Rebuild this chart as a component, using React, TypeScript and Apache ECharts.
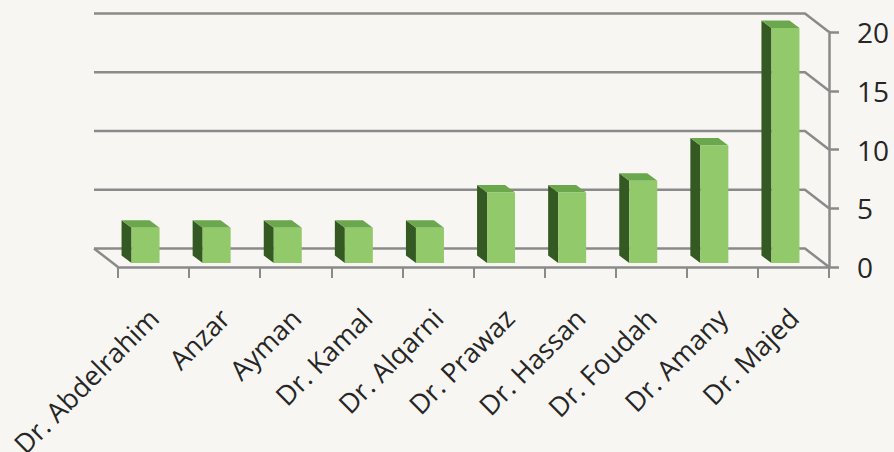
import React, { useEffect, useRef } from "react";
import * as echarts from "echarts";

const categories = [
  "Dr. Abdelrahim",
  "Anzar",
  "Ayman",
  "Dr. Kamal",
  "Dr. Alqarni",
  "Dr. Prawaz",
  "Dr. Hassan",
  "Dr. Foudah",
  "Dr. Amany",
  "Dr. Majed",
];
const values = [3, 3, 3, 3, 3, 6, 6, 7, 10, 20];
const yTicks = [0, 5, 10, 15, 20];

const DEPTH_X = -24;
const DEPTH_Y = -18.5;
const GRID_COLOR = "#8a8a8a";

export default function App() {
  const ref = useRef<HTMLDivElement>(null);
  useEffect(() => {
    if (!ref.current) return;
    const chart = echarts.init(ref.current, undefined, { renderer: "svg" });
    const option: any = {
      animation: false,
      backgroundColor: "#f8f6f3",
      grid: { left: 118, right: 65, top: 32, bottom: 185, containLabel: false, outerBoundsMode: "none" },
      xAxis: {
        type: "category",
        data: categories,
        boundaryGap: true,
        axisLine: { show: true, lineStyle: { color: GRID_COLOR, width: 2.5 } },
        axisTick: { show: true, length: 11, lineStyle: { color: GRID_COLOR, width: 2 } },
        axisLabel: {
          rotate: 45,
          margin: 46,
          interval: 0,
          color: "#262626",
          fontFamily: "Open Sans",
          fontSize: 27,
        },
      },
      yAxis: {
        type: "value",
        position: "right",
        min: 0,
        max: 20,
        interval: 5,
        axisLine: { show: true, lineStyle: { color: GRID_COLOR, width: 2.5 } },
        axisTick: { show: true, inside: false, length: 10, lineStyle: { color: GRID_COLOR, width: 2.5 } },
        splitLine: { show: false },
        axisLabel: {
          margin: 28,
          color: "#262626",
          fontFamily: "Open Sans",
          fontSize: 28,
          padding: [6, 0, 0, 0],
        },
      },
      series: [
        {
          type: "custom",
          silent: true,
          z: 1,
          data: [0],
          renderItem: (params: any, api: any) => {
            const cs = params.coordSys;
            const left = cs.x;
            const right = cs.x + cs.width;
            const children: any[] = [];
            yTicks.forEach((v) => {
              const y = api.coord([0, v])[1];
              children.push({
                type: "polyline",
                shape: {
                  points: [
                    [left + DEPTH_X, y + DEPTH_Y],
                    [right + DEPTH_X, y + DEPTH_Y],
                    [right, y],
                  ],
                },
                style: { stroke: GRID_COLOR, lineWidth: 2.5, fill: "none" },
              });
            });
            const y0 = api.coord([0, 0])[1];
            children.push({
              type: "line",
              shape: { x1: left + DEPTH_X, y1: y0 + DEPTH_Y, x2: left, y2: y0 },
              style: { stroke: GRID_COLOR, lineWidth: 2.5 },
            });
            return { type: "group", children };
          },
        },
        {
          type: "custom",
          z: 2,
          data: values.map((v, i) => [i, v]),
          renderItem: (params: any, api: any) => {
            const i = api.value(0);
            const v = api.value(1);
            const base = api.coord([i, 0]);
            const topP = api.coord([i, v]);
            const cx = base[0] - 8;
            const hw = 14;
            const by = base[1] - 4;
            const ty = topP[1] - 4;
            const dx = -10;
            const dy = -7.5;
            const xl = cx - hw;
            const xr = cx + hw;
            return {
              type: "group",
              children: [
                {
                  type: "polygon",
                  shape: { points: [[xl, by], [xl, ty], [xl + dx, ty + dy], [xl + dx, by + dy]] },
                  style: { fill: "#345922" },
                },
                {
                  type: "polygon",
                  shape: { points: [[xl, ty], [xr, ty], [xr + dx, ty + dy], [xl + dx, ty + dy]] },
                  style: { fill: "#6aa74d" },
                },
                {
                  type: "rect",
                  shape: { x: xl, y: ty, width: xr - xl, height: by - ty },
                  style: { fill: "#92c96a" },
                },
              ],
            };
          },
        },
      ],
    };
    chart.setOption(option);
    return () => chart.dispose();
  }, []);
  return <div ref={ref} style={{ width: 894, height: 452, position: "absolute", left: 0, top: 0 }} />;
}
